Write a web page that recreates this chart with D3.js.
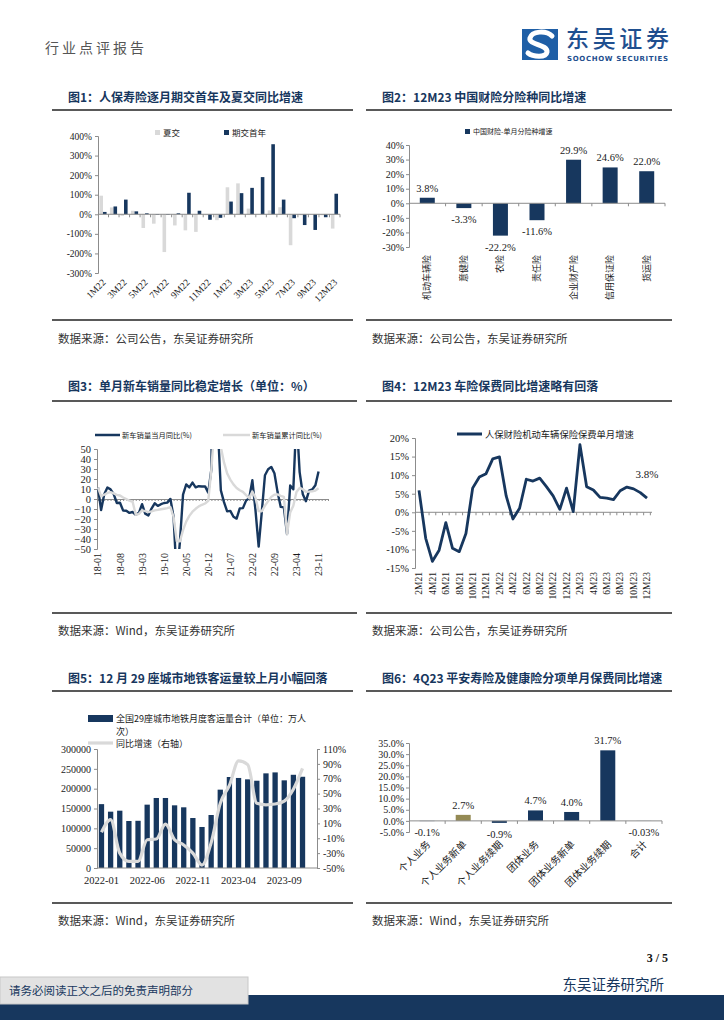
<!DOCTYPE html>
<html><head><meta charset="utf-8">
<script src="https://cdn.jsdelivr.net/npm/d3@7/dist/d3.min.js"></script>
<style>
body{margin:0;background:#fff;}
svg text{font-family:"Liberation Serif","Noto Sans CJK SC",serif;}
svg text.cjk{font-family:"Noto Sans CJK SC",sans-serif;}
</style></head><body>
<svg id="page" width="724" height="1024"></svg>
<script>
// ---------------- DATA ----------------
const c1Cats = ["1M22","2M22","3M22","4M22","5M22","6M22","7M22","8M22","9M22","10M22","11M22","12M22","1M23","2M23","3M23","4M23","5M23","6M23","7M23","8M23","9M23","10M23","12M23"];
const c1Renewal = [95,35,-8,18,-70,-48,-193,-57,-82,-90,-5,-30,138,158,29,0,20,36,-158,-5,0,-5,-73];
const c1FirstYear = [12,40,75,15,5,-3,-3,5,110,18,-28,-18,65,108,135,190,358,75,-20,-55,-80,-15,105];
const c1Ticks = [-300,-200,-100,0,100,200,300,400];

const c2Cats = ["机动车辆险","意健险","农险","责任险","企业财产险","信用保证险","货运险"];
const c2Values = [3.8,-3.3,-22.2,-11.6,29.9,24.6,22.0];
const c2Ticks = [-30,-20,-10,0,10,20,30,40];

const c3Months = ["18-01","18-02","18-03","18-04","18-05","18-06","18-07","18-08","18-09","18-10","18-11","18-12",
"19-01","19-02","19-03","19-04","19-05","19-06","19-07","19-08","19-09","19-10","19-11","19-12",
"20-01","20-02","20-03","20-04","20-05","20-06","20-07","20-08","20-09","20-10","20-11","20-12",
"21-01","21-02","21-03","21-04","21-05","21-06","21-07","21-08","21-09","21-10","21-11","21-12",
"22-01","22-02","22-03","22-04","22-05","22-06","22-07","22-08","22-09","22-10","22-11","22-12",
"23-01","23-02","23-03","23-04","23-05","23-06","23-07","23-08","23-09","23-10","23-11"];
const c3Monthly = [11.6,-11.1,4.7,11.5,9.6,4.8,-4.0,-3.8,-11.6,-11.7,-13.9,-13.0,
-15.8,-13.8,-5.2,-14.6,-16.4,-9.6,-4.3,-6.9,-5.2,-4.0,-3.6,0.1,
-18.0,-79.0,-43.3,4.4,14.5,11.6,16.4,11.6,12.8,12.5,12.6,6.4,
29.9,364.8,74.9,8.6,-3.1,-12.4,-11.9,-17.8,-19.6,-9.4,-9.1,-1.6,
0.9,18.7,-11.7,-47.6,-12.6,23.8,29.7,32.1,25.7,6.9,-7.9,-8.4,
-35.0,13.5,9.7,82.7,26.9,4.8,-2.2,8.4,9.5,13.8,27.4];
const c3Cumulative = [11.6,2.9,4.3,6.1,6.9,5.6,4.2,3.5,1.5,-0.1,-1.7,-2.8,
-15.8,-14.9,-11.3,-12.1,-13.1,-12.4,-11.4,-10.9,-10.3,-9.7,-9.1,-8.2,
-18.0,-42.0,-42.4,-31.1,-22.6,-16.9,-12.7,-9.8,-7.4,-5.8,-4.5,-1.9,
29.9,76.0,75.6,51.8,36.6,25.6,19.4,14.6,11.0,8.7,7.1,3.8,
0.9,7.5,1.1,-12.1,-12.2,-6.6,-2.1,2.1,4.4,4.6,3.1,2.1,
-35.0,-13.4,-6.7,7.1,11.1,9.8,7.3,7.4,7.7,8.5,10.8];
const c3Ticks = [-50,-40,-30,-20,-10,0,10,20,30,40,50];
const c3LabelMonths = ["18-01","18-08","19-03","19-10","20-05","20-12","21-07","22-02","22-09","23-04","23-11"];

const c4Months = ["2M21","3M21","4M21","5M21","6M21","7M21","8M21","9M21","10M21","11M21","12M21",
"1M22","2M22","3M22","4M22","5M22","6M22","7M22","8M22","9M22","10M22","11M22","12M22",
"1M23","2M23","3M23","4M23","5M23","6M23","7M23","8M23","9M23","10M23","11M23","12M23"];
const c4Values = [5.9,-7.0,-13.2,-10.2,-2.8,-9.7,-10.6,-5.7,6.5,9.5,10.4,
14.4,14.9,4.4,-1.8,1.1,8.9,8.4,9.2,6.9,4.4,0.8,6.5,
0.2,18.2,6.9,6.0,4.0,3.8,3.4,5.8,6.8,6.3,5.3,3.8];
const c4LabelMonths = ["2M21","4M21","6M21","8M21","10M21","12M21","2M22","4M22","6M22","8M22","10M22","12M22","2M23","4M23","6M23","8M23","10M23","12M23"];
const c4Ticks = [-15,-10,-5,0,5,10,15,20];

const c5Months = ["2022-01","2022-02","2022-03","2022-04","2022-05","2022-06","2022-07","2022-08","2022-09","2022-10","2022-11","2022-12",
"2023-01","2023-02","2023-03","2023-04","2023-05","2023-06","2023-07","2023-08","2023-09","2023-10","2023-11"];
const c5Ridership = [161000,142000,144500,118500,119000,159700,176500,176500,158000,153000,126000,103400,
133600,197500,229400,227000,223500,220000,238600,241000,221000,235000,230000];
const c5Growth = [-2,15,-30,-41,-41,-12,-11,9,-12,-19,-30,-46,-16,37,61,94,89,37,35,36,40,56,84];
const c5LeftTicks = [0,50000,100000,150000,200000,250000,300000];
const c5RightTicks = [-50,-30,-10,10,30,50,70,90,110];
const c5LabelMonths = ["2022-01","2022-06","2022-11","2023-04","2023-09"];

const c6Cats = ["个人业务","个人业务新单","个人业务续期","团体业务","团体业务新单","团体业务续期","合计"];
const c6Values = [-0.1,2.7,-0.9,4.7,4.0,31.7,-0.03];
const c6Labels = ["-0.1%","2.7%","-0.9%","4.7%","4.0%","31.7%","-0.03%"];
const c6Ticks = [-5,0,5,10,15,20,25,30,35];

const titles = ["图1：人保寿险逐月期交首年及夏交同比增速","图2：12M23 中国财险分险种同比增速",
"图3：单月新车销量同比稳定增长（单位：%）","图4：12M23 车险保费同比增速略有回落",
"图5：12 月 29 座城市地铁客运量较上月小幅回落","图6：4Q23 平安寿险及健康险分项单月保费同比增速"];
const sources = ["数据来源：公司公告，东吴证券研究所","数据来源：公司公告，东吴证券研究所",
"数据来源：Wind，东吴证券研究所","数据来源：公司公告，东吴证券研究所",
"数据来源：Wind，东吴证券研究所","数据来源：Wind，东吴证券研究所"];

// ---------------- STYLE ----------------
const NAVY="#17375e", LIGHT="#d9d9d9", OLIVE="#948a54", AX="#8c8c8c", TXT="#1a1a1a";
const svg = d3.select("#page");

function styleAxis(g, fs){
  g.selectAll("path.domain").attr("stroke",AX).attr("stroke-width",1);
  g.selectAll(".tick line").attr("stroke",AX);
  g.selectAll(".tick text").attr("font-family","Liberation Serif").attr("font-size",fs||10).attr("fill",TXT);
}
function hline(x1,x2,y,col,w){svg.append("line").attr("x1",x1).attr("x2",x2).attr("y1",y).attr("y2",y).attr("stroke",col||AX).attr("stroke-width",w||1);}

// ---------------- HEADER / FOOTER ----------------
svg.append("text").attr("class","cjk").attr("x",45).attr("y",53).attr("font-size",14).attr("letter-spacing",3).attr("fill","#555").text("行业点评报告");
// logo
svg.append("rect").attr("x",522).attr("y",29).attr("width",36).attr("height",31).attr("fill","#1f5fa6");
svg.append("path").attr("d","M552,36 C546,30 532,31 530,38 C528,45 548,44 547,52 C546,58 533,57 528,53")
  .attr("fill","none").attr("stroke","#fff").attr("stroke-width",5).attr("stroke-linecap","round");
svg.append("text").attr("class","cjk").attr("x",566).attr("y",47).attr("font-size",23).attr("font-weight",500).attr("fill","#1f4f8f").attr("textLength",103).text("东吴证券");
svg.append("text").attr("x",567).attr("y",61).attr("font-size",7).attr("font-weight","bold").attr("fill","#1f4f8f").attr("textLength",101).style("font-family","DejaVu Sans").text("SOOCHOW SECURITIES");

svg.append("text").attr("x",668).attr("y",962).attr("text-anchor","end").attr("font-size",12).attr("font-weight","bold").attr("fill","#111").text("3 / 5");
svg.append("text").attr("class","cjk").attr("x",664).attr("y",990).attr("text-anchor","end").attr("font-size",14.5).attr("fill",NAVY).text("东吴证券研究所");
svg.append("rect").attr("x",0).attr("y",995).attr("width",724).attr("height",25).attr("fill",NAVY);
svg.append("rect").attr("x",0).attr("y",977).attr("width",248).attr("height",27).attr("fill","#e2e2e2").attr("stroke","#c8c8c8");
svg.append("text").attr("class","cjk").attr("x",9).attr("y",995).attr("font-size",11.5).attr("fill",NAVY).text("请务必阅读正文之后的免责声明部分");

// panel frames
const panels = [
 {x:52,x2:353,tx:68,ty:102,top:110,bot:320,sy:343},
 {x:366,x2:672,tx:382,ty:102,top:110,bot:320,sy:343},
 {x:52,x2:357,tx:68,ty:391,top:401,bot:613,sy:635},
 {x:366,x2:672,tx:382,ty:391,top:401,bot:613,sy:635},
 {x:52,x2:353,tx:68,ty:683,top:691,bot:903,sy:925},
 {x:366,x2:672,tx:382,ty:683,top:691,bot:903,sy:925}
];
panels.forEach((p,i)=>{
  svg.append("text").attr("class","cjk").attr("x",p.tx).attr("y",p.ty).attr("font-size",12).attr("font-weight","bold").attr("fill",NAVY).text(titles[i]);
  hline(p.x,p.x2,p.top,"#222",1.3);
  hline(p.x,p.x2,p.bot,"#222",1.3);
  svg.append("text").attr("class","cjk").attr("x",p.tx-10).attr("y",p.sy).attr("font-size",11.5).attr("fill","#333").text(sources[i]);
});

// ---------------- CHART 1 ----------------
(function(){
  const x = d3.scaleBand().domain(c1Cats).range([98,340]);
  const y = d3.scaleLinear().domain([-300,400]).range([273,136]);
  const bw = x.bandwidth();
  const g = svg.append("g");
  g.selectAll("rect.r").data(c1Cats).join("rect").attr("x",c=>x(c)+1.4).attr("width",bw*0.34)
    .attr("y",(c,i)=>y(Math.max(0,c1Renewal[i]))).attr("height",(c,i)=>Math.abs(y(c1Renewal[i])-y(0))).attr("fill",LIGHT);
  g.selectAll("rect.f").data(c1Cats).join("rect").attr("x",c=>x(c)+1.4+bw*0.34).attr("width",bw*0.34)
    .attr("y",(c,i)=>y(Math.max(0,c1FirstYear[i]))).attr("height",(c,i)=>Math.abs(y(c1FirstYear[i])-y(0))).attr("fill",NAVY);
  const ya = svg.append("g").attr("transform","translate(98,0)")
    .call(d3.axisLeft(y).tickValues(c1Ticks).tickFormat(d=>d+"%").tickSize(3).tickPadding(3));
  styleAxis(ya,9.5);
  hline(98,340,y(0));
  svg.append("g").selectAll("line").data(c1Cats).join("line").attr("x1",c=>x(c)+bw).attr("x2",c=>x(c)+bw)
    .attr("y1",y(0)).attr("y2",y(0)+3).attr("stroke",AX);
  svg.append("g").selectAll("text").data(c1Cats.filter((c,i)=>i%2===0)).join("text")
    .attr("text-anchor","end").attr("font-size",9.5).attr("fill",TXT)
    .attr("transform",c=>`translate(${x(c)+bw/2+3},${283}) rotate(-45)`).text(c=>c);
  // legend
  svg.append("rect").attr("x",155).attr("y",130).attr("width",5).attr("height",5).attr("fill",LIGHT);
  svg.append("text").attr("class","cjk").attr("x",163).attr("y",136).attr("font-size",8.5).attr("fill",TXT).text("夏交");
  svg.append("rect").attr("x",224).attr("y",130).attr("width",5).attr("height",5).attr("fill",NAVY);
  svg.append("text").attr("class","cjk").attr("x",232).attr("y",136).attr("font-size",8.5).attr("fill",TXT).text("期交首年");
})();

// ---------------- CHART 2 ----------------
(function(){
  const x = d3.scaleBand().domain(c2Cats).range([409,665]);
  const y = d3.scaleLinear().domain([-30,40]).range([247,145]);
  const bw = x.bandwidth(), w = 15;
  svg.append("g").selectAll("rect").data(c2Cats).join("rect").attr("x",c=>x(c)+(bw-w)/2).attr("width",w)
    .attr("y",(c,i)=>y(Math.max(0,c2Values[i]))).attr("height",(c,i)=>Math.abs(y(c2Values[i])-y(0))).attr("fill",NAVY);
  const ya = svg.append("g").attr("transform","translate(409,0)")
    .call(d3.axisLeft(y).tickValues(c2Ticks).tickFormat(d=>d+"%").tickSize(3).tickPadding(2));
  styleAxis(ya,10);
  hline(409,665,y(0));
  svg.append("g").selectAll("line").data(c2Cats).join("line").attr("x1",c=>x(c)+bw).attr("x2",c=>x(c)+bw)
    .attr("y1",y(0)).attr("y2",y(0)+3).attr("stroke",AX);
  svg.append("g").selectAll("text").data(c2Cats).join("text").attr("text-anchor","middle").attr("font-size",10.5).attr("fill",TXT)
    .attr("x",c=>x(c)+bw/2).attr("y",(c,i)=>c2Values[i]>=0? y(c2Values[i])-6 : y(c2Values[i])+15)
    .text((c,i)=>c2Values[i].toFixed(1)+"%");
  svg.append("g").selectAll("text").data(c2Cats).join("text").attr("class","cjk").attr("text-anchor","end").attr("font-size",9).attr("fill",TXT)
    .attr("transform",c=>`translate(${x(c)+bw/2+3},255) rotate(-90)`).text(c=>c);
  svg.append("rect").attr("x",465).attr("y",129).attr("width",5).attr("height",5).attr("fill",NAVY);
  svg.append("text").attr("class","cjk").attr("x",473).attr("y",134).attr("font-size",7).attr("fill",TXT).text("中国财险-单月分险种增速");
})();

// ---------------- CHART 3 ----------------
(function(){
  const x = d3.scaleLinear().domain([-0.3,73]).range([97,328]);
  const y = d3.scaleLinear().domain([-50,50]).range([549,449]);
  svg.append("defs").append("clipPath").attr("id","clip3").append("rect").attr("x",97).attr("y",449).attr("width",235).attr("height",100);
  const ya = svg.append("g").attr("transform","translate(97,0)")
    .call(d3.axisLeft(y).tickValues(c3Ticks).tickSize(3).tickPadding(3));
  styleAxis(ya,10.5);
  const xa = svg.append("g").attr("transform",`translate(0,${y(0)})`)
    .call(d3.axisBottom(x).tickValues(d3.range(0,74)).tickSize(2).tickFormat(""));
  styleAxis(xa);
  const line = d3.line().x((d,i)=>x(i)).y(d=>y(d));
  const g = svg.append("g").attr("clip-path","url(#clip3)");
  g.append("path").datum(c3Monthly).attr("d",line).attr("fill","none").attr("stroke",NAVY).attr("stroke-width",2.4).attr("stroke-linejoin","round");
  g.append("path").datum(c3Cumulative).attr("d",line).attr("fill","none").attr("stroke",LIGHT).attr("stroke-width",2.4).attr("stroke-linejoin","round");
  svg.append("g").selectAll("text").data(c3LabelMonths).join("text").attr("text-anchor","end").attr("font-size",10).attr("fill",TXT)
    .attr("transform",m=>`translate(${x(c3Months.indexOf(m))+3.5},553) rotate(-90)`).text(m=>m);
  svg.append("line").attr("x1",95).attr("x2",120).attr("y1",435).attr("y2",435).attr("stroke",NAVY).attr("stroke-width",2.5);
  svg.append("text").attr("class","cjk").attr("x",122).attr("y",438).attr("font-size",7.3).attr("fill",TXT).text("新车销量当月同比(%)");
  svg.append("line").attr("x1",223).attr("x2",250).attr("y1",435).attr("y2",435).attr("stroke",LIGHT).attr("stroke-width",2.5);
  svg.append("text").attr("class","cjk").attr("x",252).attr("y",438).attr("font-size",7.3).attr("fill",TXT).text("新车销量累计同比(%)");
})();

// ---------------- CHART 4 ----------------
(function(){
  const x = d3.scalePoint().domain(c4Months).range([419,647]);
  const y = d3.scaleLinear().domain([-15,20]).range([568,438]);
  const st = x.step();
  const ya = svg.append("g").attr("transform","translate(415,0)")
    .call(d3.axisLeft(y).tickValues(c4Ticks).tickFormat(d=>d+"%").tickSize(3).tickPadding(3));
  styleAxis(ya,10.5);
  hline(415,652,y(0));
  svg.append("g").selectAll("line").data(c4Months).join("line").attr("x1",m=>x(m)+st/2).attr("x2",m=>x(m)+st/2)
    .attr("y1",y(0)).attr("y2",y(0)+3).attr("stroke",AX);
  const line = d3.line().x((d,i)=>x(c4Months[i])).y(d=>y(d));
  svg.append("path").datum(c4Values).attr("d",line).attr("fill","none").attr("stroke",NAVY).attr("stroke-width",2.8).attr("stroke-linejoin","round");
  svg.append("g").selectAll("text").data(c4LabelMonths).join("text").attr("text-anchor","end").attr("font-size",9.5).attr("fill",TXT)
    .attr("transform",m=>`translate(${x(m)+3.3},572) rotate(-90)`).text(m=>m);
  const last = c4Months.length-1;
  svg.append("text").attr("x",x(c4Months[last])).attr("y",y(c4Values[last])-20).attr("text-anchor","middle").attr("font-size",11).attr("fill",TXT)
    .text(c4Values[last].toFixed(1)+"%");
  svg.append("line").attr("x1",457).attr("x2",482).attr("y1",434).attr("y2",434).attr("stroke",NAVY).attr("stroke-width",3);
  svg.append("text").attr("class","cjk").attr("x",485).attr("y",438).attr("font-size",9.3).attr("fill",TXT).text("人保财险机动车辆保险保费单月增速");
})();

// ---------------- CHART 5 ----------------
(function(){
  const x = d3.scaleBand().domain(c5Months).range([97,307]).paddingInner(0.42).paddingOuter(0.2);
  const yl = d3.scaleLinear().domain([0,300000]).range([868,749]);
  const yr = d3.scaleLinear().domain([-50,110]).range([868,749]);
  const bw = x.bandwidth();
  svg.append("g").selectAll("rect").data(c5Months).join("rect").attr("x",m=>x(m)).attr("width",bw)
    .attr("y",(m,i)=>yl(c5Ridership[i])).attr("height",(m,i)=>yl(0)-yl(c5Ridership[i])).attr("fill",NAVY);
  const line = d3.line().x((d,i)=>x(c5Months[i])+bw/2).y(d=>yr(d)).curve(d3.curveMonotoneX);
  svg.append("path").datum(c5Growth).attr("d",line).attr("fill","none").attr("stroke",LIGHT).attr("stroke-width",3.2);
  const ya = svg.append("g").attr("transform","translate(97,0)")
    .call(d3.axisLeft(yl).tickValues(c5LeftTicks).tickFormat(d3.format("d")).tickSize(3).tickPadding(3));
  styleAxis(ya,10);
  const yb = svg.append("g").attr("transform","translate(317,0)")
    .call(d3.axisRight(yr).tickValues(c5RightTicks).tickFormat(d=>d+"%").tickSize(3).tickPadding(3));
  styleAxis(yb,10);
  hline(97,317,yl(0));
  svg.append("g").selectAll("text").data(c5LabelMonths).join("text").attr("text-anchor","middle").attr("font-size",10.5).attr("fill",TXT)
    .attr("x",m=>x(m)+bw/2).attr("y",884).text(m=>m);
  svg.append("rect").attr("x",88).attr("y",715).attr("width",25).attr("height",7).attr("fill",NAVY);
  svg.append("text").attr("class","cjk").attr("x",116).attr("y",722).attr("font-size",9).attr("fill",TXT).text("全国29座城市地铁月度客运量合计（单位：万人");
  svg.append("text").attr("class","cjk").attr("x",116).attr("y",735).attr("font-size",9).attr("fill",TXT).text("次）");
  svg.append("line").attr("x1",88).attr("x2",113).attr("y1",743).attr("y2",743).attr("stroke",LIGHT).attr("stroke-width",3.2);
  svg.append("text").attr("class","cjk").attr("x",116).attr("y",747).attr("font-size",9).attr("fill",TXT).text("同比增速（右轴）");
})();

// ---------------- CHART 6 ----------------
(function(){
  const x = d3.scaleBand().domain(c6Cats).range([409,662]);
  const y = d3.scaleLinear().domain([-5,35]).range([832,743]);
  const bw = x.bandwidth(), w = 15;
  svg.append("g").selectAll("rect").data(c6Cats).join("rect").attr("x",c=>x(c)+(bw-w)/2).attr("width",w)
    .attr("y",(c,i)=>y(Math.max(0,c6Values[i]))).attr("height",(c,i)=>Math.abs(y(c6Values[i])-y(0)))
    .attr("fill",(c,i)=>i===1?OLIVE:NAVY);
  const ya = svg.append("g").attr("transform","translate(409,0)")
    .call(d3.axisLeft(y).tickValues(c6Ticks).tickFormat(d=>d.toFixed(1)+"%").tickSize(3).tickPadding(2));
  styleAxis(ya,10);
  hline(409,662,y(0));
  svg.append("g").selectAll("line").data(c6Cats).join("line").attr("x1",c=>x(c)+bw).attr("x2",c=>x(c)+bw)
    .attr("y1",y(0)).attr("y2",y(0)+3).attr("stroke",AX);
  svg.append("g").selectAll("text").data(c6Cats).join("text").attr("text-anchor","middle").attr("font-size",10.5).attr("fill",TXT)
    .attr("x",c=>x(c)+bw/2).attr("y",(c,i)=>c6Values[i]>=0? y(c6Values[i])-6 : y(Math.min(0,c6Values[i]))+15)
    .text((c,i)=>c6Labels[i]);
  svg.append("g").selectAll("text").data(c6Cats).join("text").attr("class","cjk").attr("text-anchor","end").attr("font-size",10).attr("fill",TXT)
    .attr("transform",c=>`translate(${x(c)+bw/2+4},845) rotate(-45)`).text(c=>c);
})();
</script>
</body></html>
